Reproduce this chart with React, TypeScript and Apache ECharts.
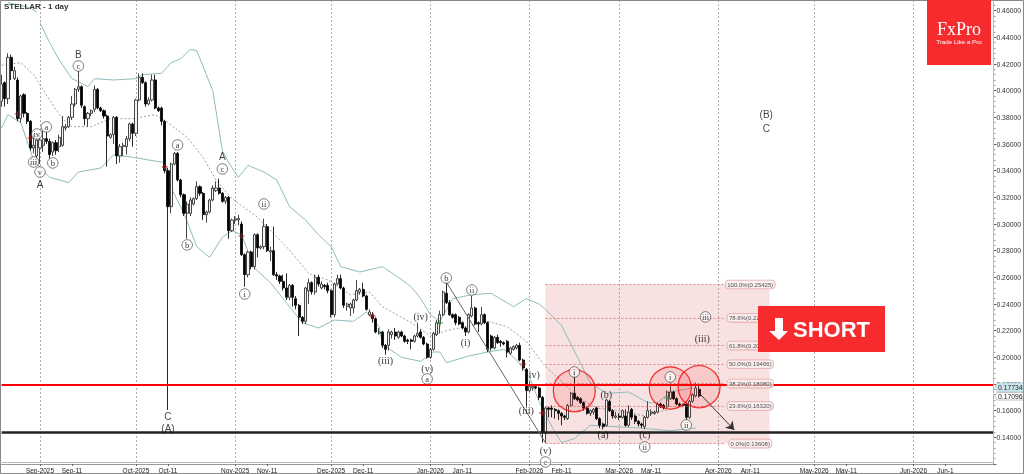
import React, { useEffect, useRef } from "react";
import * as echarts from "echarts";

const dayCount = 311;
const xTickDays = [12, 22, 42, 52, 73, 83, 103, 113, 134, 144, 165, 175, 193, 203, 224, 234, 254, 264, 285, 295];
const xTickLabels = ["Sep-2025", "Sep-11", "Oct-2025", "Oct-11", "Nov-2025", "Nov-11", "Dec-2025", "Dec-11", "Jan-2026", "Jan-11", "Feb-2026", "Feb-11", "Mar-2026", "Mar-11", "Apr-2026", "Apr-11", "May-2026", "May-11", "Jun-2026", "Jun-1"];
const monthStartDays = [12, 42, 73, 103, 134, 165, 193, 224, 254, 285];

const opens = [
  .392,.406,.394,.425,.409,.408,.379,.397,.383,.377,
  .357,.351,.357,.359,.364,.362,.354,.361,.358,.359,
  .372,.373,.380,.390,.401,.403,.388,.379,.383,.386,
  .401,.387,.385,.381,.365,.367,.380,.351,.358,.358,
  .364,.375,.368,.393,.410,.406,.390,.393,.408,.387,
  .387,.377,.340,.313,.345,.353,.333,.322,.308,.308,
  .315,.319,.328,.323,.307,.309,.318,.325,.327,.323,
  .317,.320,.295,.303,.303,.300,.277,.262,.279,.268,
  .292,.282,.283,.298,.279,.280,.262,.261,.257,.252,
  .245,.254,.244,.239,.230,.227,.250,.256,.249,.260,
  .252,.254,.254,.250,.232,.255,.259,.252,.238,.237,
  .237,.243,.249,.251,.246,.232,.232,.229,.218,.219,
  .209,.209,.217,.219,.215,.219,.216,.213,.213,.212,
  .216,.219,.215,.210,.200,.206,.217,.225,.232,.248,
  .241,.232,.232,.230,.226,.222,.219,.231,.237,.226,
  .225,.232,.226,.216,.207,.215,.212,.211,.212,.203,
  .206,.207,.209,.198,.191,.175,.177,.178,.177,.170,
  .143,.162,.162,.161,.160,.158,.156,.154,.164,.173,
  .170,.169,.166,.162,.158,.159,.162,.154,.150,.149,
  .167,.160,.155,.156,.155,.156,.149,.161,.156,.152,
  .150,.148,.155,.158,.158,.159,.165,.164,.163,.169,
  .174,.169,.165,.165,.165,.155,.167,.171,.176,
];
const closes = [
  .405,.394,.425,.415,.415,.379,.396,.383,.377,.357,
  .359,.363,.363,.364,.362,.352,.361,.355,.365,.373,
  .373,.380,.390,.401,.403,.389,.379,.383,.385,.401,
  .387,.385,.381,.366,.367,.380,.351,.358,.359,.364,
  .375,.368,.393,.410,.406,.390,.393,.408,.387,.385,
  .377,.340,.313,.345,.353,.333,.322,.308,.315,.318,
  .319,.328,.323,.307,.309,.318,.327,.327,.323,.317,
  .320,.295,.303,.304,.304,.277,.262,.279,.268,.292,
  .282,.283,.298,.280,.280,.262,.261,.257,.252,.245,
  .254,.245,.239,.230,.227,.252,.256,.249,.260,.255,
  .255,.253,.250,.232,.255,.259,.252,.239,.240,.240,
  .243,.250,.251,.246,.236,.234,.229,.219,.219,.209,
  .206,.219,.219,.216,.219,.216,.212,.212,.212,.216,
  .218,.215,.210,.200,.206,.218,.226,.232,.249,.241,
  .232,.230,.226,.225,.222,.219,.232,.237,.225,.225,
  .232,.226,.206,.207,.215,.211,.211,.210,.204,.207,
  .208,.209,.198,.192,.175,.178,.178,.177,.170,.144,
  .162,.161,.161,.160,.158,.156,.155,.164,.173,.169,
  .168,.166,.162,.158,.160,.161,.154,.149,.148,.168,
  .160,.156,.156,.155,.160,.149,.159,.155,.152,.150,
  .149,.155,.160,.159,.159,.165,.163,.162,.174,.174,
  .169,.165,.164,.164,.155,.167,.172,.177,.171,
];
const highs = [
  .412,.407,.428,.427,.418,.410,.397,.398,.384,.378,
  .368,.366,.367,.371,.370,.364,.362,.363,.367,.381,
  .375,.381,.396,.402,.415,.404,.389,.384,.386,.404,
  .402,.388,.386,.382,.368,.381,.381,.360,.361,.366,
  .376,.376,.394,.413,.413,.407,.395,.412,.412,.388,
  .388,.378,.342,.346,.354,.354,.334,.323,.317,.320,
  .320,.332,.329,.324,.310,.319,.329,.332,.334,.324,
  .321,.321,.304,.306,.307,.302,.278,.280,.280,.293,
  .293,.284,.304,.300,.283,.298,.264,.262,.262,.263,
  .255,.255,.246,.240,.231,.253,.259,.257,.262,.262,
  .257,.255,.256,.251,.256,.262,.262,.253,.241,.241,
  .244,.258,.252,.256,.247,.236,.234,.230,.222,.220,
  .210,.221,.220,.222,.220,.220,.217,.214,.214,.217,
  .226,.221,.216,.211,.207,.219,.228,.235,.250,.2565,
  .243,.233,.233,.231,.227,.223,.233,.246,.238,.227,
  .238,.233,.227,.217,.216,.217,.213,.212,.213,.208,
  .209,.210,.211,.199,.192,.182,.179,.179,.178,.171,
  .163,.163,.164,.162,.161,.159,.157,.165,.174,.189,
  .171,.170,.167,.163,.161,.162,.163,.155,.151,.169,
  .168,.161,.159,.158,.161,.161,.164,.162,.157,.153,
  .151,.156,.167,.161,.160,.166,.166,.165,.175,.181,
  .175,.170,.166,.165,.166,.168,.173,.181,.180,
];
const lows = [
  .388,.388,.390,.408,.408,.377,.376,.380,.375,.355,
  .353,.345,.345,.354,.360,.349,.351,.352,.354,.358,
  .370,.372,.378,.388,.399,.387,.374,.373,.381,.384,
  .386,.384,.379,.343,.364,.360,.345,.346,.351,.352,
  .362,.358,.366,.392,.405,.388,.389,.392,.386,.384,
  .374,.338,.1605,.308,.344,.332,.320,.306,.289,.306,
  .314,.318,.321,.303,.301,.308,.317,.324,.322,.316,
  .315,.289,.294,.300,.299,.276,.253,.260,.266,.266,
  .275,.281,.281,.279,.272,.261,.258,.255,.250,.243,
  .243,.238,.236,.216,.225,.225,.240,.247,.247,.253,
  .251,.251,.248,.230,.230,.254,.251,.237,.235,.231,
  .233,.242,.247,.245,.235,.231,.226,.218,.217,.207,
  .202,.205,.214,.213,.214,.215,.211,.210,.206,.211,
  .215,.214,.209,.199,.199,.205,.216,.218,.231,.240,
  .231,.229,.224,.224,.221,.216,.218,.230,.224,.219,
  .224,.225,.204,.205,.206,.210,.208,.209,.200,.202,
  .205,.206,.197,.190,.163,.174,.175,.176,.168,.136,
  .136,.155,.155,.154,.153,.149,.153,.153,.163,.168,
  .167,.165,.160,.157,.156,.157,.153,.147,.146,.148,
  .159,.154,.154,.153,.154,.148,.148,.153,.150,.148,
  .147,.146,.154,.156,.157,.158,.162,.161,.162,.168,
  .168,.164,.163,.163,.153,.154,.166,.170,.170,
];

const upperBandEarly = [[2,.466],[6,.464],[9,.462],[11,.459]];
const upperBand = [[12,.451],[15,.436],[18,.423],[22,.409],[27,.403],[29,.409],[35,.408],[42,.409],[44,.412],[50,.413],[53,.421],[56,.424],[59,.431],[61,.430],[66,.400],[69,.355],[71,.346],[74,.335],[77,.344],[82,.339],[86,.333],[90,.313],[95,.303],[99,.292],[103,.283],[106,.268],[112,.264],[119,.268],[124,.260],[128,.253],[131,.244],[134,.232],[137,.227],[141,.244],[147,.247],[153,.248],[160,.238],[164,.244],[168,.240],[170,.236],[175,.224],[180,.200],[184,.181],[189,.173],[196,.174],[202,.166],[205,.166],[209,.174],[216,.177]];
const lowerBand = [[0,.372],[2,.382],[6,.376],[10,.348],[15,.335],[21,.331],[24,.339],[31,.342],[35,.352],[41,.350],[51,.346],[53,.327],[57,.308],[61,.283],[65,.275],[69,.290],[72,.295],[75,.292],[79,.267],[84,.256],[89,.241],[94,.226],[99,.222],[104,.228],[110,.227],[114,.234],[118,.223],[119,.210],[125,.200],[131,.197],[135,.204],[137,.204],[139,.196],[146,.201],[152,.204],[157,.206],[161,.198],[165,.185],[168,.167],[172,.148],[175,.136],[179,.139],[182,.145],[184,.149],[192,.148],[199,.147],[209,.145],[217,.147]];
const middleBand = [[0,.419],[6,.421],[10,.412],[15,.393],[19,.379],[22,.373],[28,.373],[34,.379],[41,.379],[48,.382],[52,.376],[58,.365],[63,.350],[67,.333],[72,.319],[80,.305],[89,.283],[96,.263],[102,.258],[109,.247],[115,.249],[119,.238],[128,.226],[134,.216],[139,.220],[145,.223],[152,.227],[158,.223],[164,.212],[170,.193],[176,.180],[180,.170],[186,.162],[193,.160],[201,.156],[207,.160],[215,.164]];

const fibLevels = [.2546, .2296, .2088, .1948, .1803, .1635, .1353];
const fibLabels = ["100.0%(0.25425)", "78.6%(0.22880)", "61.8%(0.20898)", "50.0%(0.19466)", "38.2%(0.18080)", "23.6%(0.16320)", "0.0%(0.13608)"];

const resistanceLevel = .1798;
const supportLevel = .1438;
const focusCircles = [[179, .1750], [209, .1770], [218, .1780]];
const redCrosses = [[5,.3825],[9,.3645],[51,.3428],[75,.291],[116,.231],[163,.195],[169,.1583]];
const greenCrosses = [[137,.2258],[208,.1695]];

const circledWaves: [number, number, string][] = [
  [24,.4185,"c"],[14,.3728,"a"],[11,.3675,"iv"],[10,.3465,"iii"],[16,.3458,"b"],[12,.339,"v"],
  [55,.3593,"a"],[69,.3413,"c"],[58,.2843,"b"],[76,.2475,"i"],[82,.315,"ii"],[139,.2595,"b"],
  [147,.2505,"ii"],[133,.1838,"a"],[170,.1215,"c"],[179,.189,"i"],[201,.1328,"ii"],[209,.1853,"i"],
  [214,.1493,"ii"],[220,.2303,"iii"],
];
const parenWaves: [number, number, string][] = [
  [131,.231,"(iv)"],[120,.1973,"(iii)"],[133,.192,"(v)"],[145,.2108,"(i)"],[166,.1868,"(iv)"],
  [164,.1598,"(iii)"],[170,.1305,"(v)"],[189,.1725,"(b)"],[188,.1418,"(a)"],[201,.1418,"(c)"],[219,.2145,"(iii)"],
];
const majorWaves: [number, number, string][] = [
  [24,.4275,"B"],[12,.33,"A"],[69,.351,"A"],[52,.156,"C"],[52,.1463,"(A)"],[239,.3818,"(B)"],[239,.372,"C"],
];
const trendLine = [[139,.2565],[170,.1358]];
const forecastArrow = [[218,.1733],[229,.1455]];

const crossPath = "path://M4 0H6V4H10V6H6V10H4V6H0V4H4Z";

export default function App() {
  const ref = useRef<HTMLDivElement>(null);
  useEffect(() => {
    document.body.style.margin = "0";
    const chart = echarts.init(ref.current!, undefined, { renderer: "svg" });
    const tickSet = new Set(xTickDays);
    const monthSet = new Set(monthStartDays);
    const categories = Array.from({ length: dayCount }, (_, i) => String(i));
    const sans = "Liberation Sans";
    const serif = "Liberation Serif";
    const helper = (z: number, extra: any) => ({
      type: "line", data: [[0, 0.3]], symbol: "none", silent: true, z, lineStyle: { opacity: 0 }, ...extra,
    });
    const band = (data: number[][], color: string, type: any, width: number) => ({
      type: "line", data, symbol: "none", silent: true, z: 2, lineStyle: { color, type, width },
    });
    chart.setOption({
      animation: false,
      title: { text: "STELLAR - 1 day", left: 4, top: 2, padding: 0, textStyle: { fontFamily: sans, fontSize: 8, fontWeight: "bold", color: "#333" } },
      grid: { left: 1.6, top: 0, width: 993.4, height: 464, containLabel: false },
      xAxis: {
        type: "category", data: categories, boundaryGap: false,
        axisLine: { lineStyle: { color: "#999" } },
        axisTick: { length: 2, lineStyle: { color: "#666" }, interval: (i: number) => tickSet.has(i) },
        axisLabel: {
          interval: (i: number) => tickSet.has(i), margin: 3, fontFamily: sans, fontSize: 6.5, color: "#222",
          formatter: (_: string, i: number) => xTickLabels[xTickDays.indexOf(i)] ?? "",
        },
        splitLine: { show: true, interval: (i: number) => monthSet.has(i), lineStyle: { color: "#999", type: [2, 2], width: 0.8 } },
      },
      yAxis: {
        type: "value", position: "right", min: 0.12, max: 0.468, interval: 0.02, scale: true,
        axisLine: { show: true, lineStyle: { color: "#888" } },
        axisTick: { show: true, length: 3, lineStyle: { color: "#666" } },
        minorTick: { show: true, splitNumber: 5, length: 2, lineStyle: { color: "#999" } },
        splitLine: { show: false },
        axisLabel: {
          margin: 3, fontFamily: sans, fontSize: 6.8, color: "#333",
          formatter: (v: number) => (v > 0.13 && Math.abs(v / 0.02 - Math.round(v / 0.02)) < 1e-6 ? v.toFixed(5) : ""),
        },
      },
      series: [
        helper(1, {
          markArea: { silent: true, itemStyle: { color: "rgba(222,130,130,0.24)" }, data: [[{ coord: [170, fibLevels[0]] }, { coord: [240, fibLevels[6]] }]] },
          markLine: {
            silent: true, symbol: "none", label: { show: false },
            lineStyle: { color: "#d96a6a", type: [2, 2], width: 0.8 },
            data: fibLevels.map((p) => [{ coord: [170, p] }, { coord: [226, p] }]),
          },
        }),
        band(upperBandEarly, "#8fbdbd", "solid", 1),
        band(upperBand, "#8fbdbd", "solid", 1),
        band(lowerBand, "#8fbdbd", "solid", 1),
        band(middleBand, "#777", [2, 2], 0.7),
        {
          type: "candlestick", z: 3, barWidth: 2.6, silent: true,
          itemStyle: { color: "#f4f4f4", color0: "#000", borderColor: "#333", borderColor0: "#111", borderWidth: 0.9 },
          data: opens.map((o, i) => [o, closes[i], lows[i], highs[i]]),
        },
        helper(4, {
          markLine: {
            silent: true, symbol: "none", label: { show: false },
            data: [
              [{ coord: [0, resistanceLevel], lineStyle: { color: "#f00", width: 2, type: "solid" } }, { coord: [310, resistanceLevel] }],
              [{ coord: [0, supportLevel], lineStyle: { color: "#222", width: 2.5, type: "solid" } }, { coord: [310, supportLevel] }],
            ],
          },
        }),
        helper(4, {
          markLine: {
            silent: true, symbol: ["none", "none"], label: { show: false },
            lineStyle: { color: "#666", width: 1, type: "solid" },
            data: [[{ coord: trendLine[0] }, { coord: trendLine[1] }]],
          },
        }),
        helper(4, {
          markLine: {
            silent: true, symbol: ["none", "arrow"], symbolSize: 8, label: { show: false },
            lineStyle: { color: "#333", width: 1, type: "solid" },
            data: [[{ coord: forecastArrow[0] }, { coord: forecastArrow[1] }]],
          },
        }),
        {
          type: "scatter", z: 5, silent: true, symbol: "circle", symbolSize: 42, data: focusCircles,
          itemStyle: { color: "rgba(255,0,0,0.13)", borderColor: "#f01010", borderWidth: 1.3 },
        },
        { type: "scatter", z: 6, silent: true, symbol: crossPath, symbolSize: 6, data: redCrosses, itemStyle: { color: "#a01818" } },
        { type: "scatter", z: 6, silent: true, symbol: crossPath, symbolSize: 6, data: greenCrosses, itemStyle: { color: "#3d8f3d" } },
        {
          type: "scatter", z: 7, silent: true, symbol: "circle", symbolSize: 10.5,
          itemStyle: { color: "#fff", borderColor: "#333", borderWidth: 0.8 },
          label: { show: true, position: "inside", fontFamily: serif, fontSize: 8.5, color: "#000", textBorderWidth: 0, formatter: (p: any) => p.value[2] },
          data: circledWaves,
        },
        {
          type: "scatter", z: 7, silent: true, symbolSize: 0, itemStyle: { color: "transparent" },
          label: { show: true, position: "inside", fontFamily: serif, fontSize: 10, color: "#000", textBorderWidth: 0, formatter: (p: any) => p.value[2] },
          data: parenWaves,
        },
        {
          type: "scatter", z: 7, silent: true, symbolSize: 0, itemStyle: { color: "transparent" },
          label: { show: true, position: "inside", fontFamily: sans, fontSize: 10, color: "#111", textBorderWidth: 0, formatter: (p: any) => p.value[2] },
          data: majorWaves,
        },
        {
          type: "scatter", z: 7, silent: true, symbolSize: 0, itemStyle: { color: "transparent" },
          label: {
            show: true, position: "inside", fontFamily: sans, fontSize: 6, color: "#222", textBorderWidth: 0,
            backgroundColor: "#fbf1f1", borderColor: "#e39a9a", borderWidth: 0.8, borderRadius: 3, padding: [1, 1.5],
            formatter: (p: any) => fibLabels[p.dataIndex],
          },
          data: fibLevels.map((p) => [234, p]),
        },
      ],
      graphic: [
        { type: "rect", z: 100, shape: { x: 0.5, y: 0.5, width: 1023, height: 473 }, style: { fill: "none", stroke: "#888", lineWidth: 1 } },
        { type: "line", z: 100, shape: { x1: 993.5, y1: 0, x2: 993.5, y2: 462.5 }, style: { stroke: "#bbb", lineWidth: 1 } },
        { type: "line", z: 100, shape: { x1: 0, y1: 462.5, x2: 994, y2: 462.5 }, style: { stroke: "#bbb", lineWidth: 1 } },
        { type: "rect", z: 100, shape: { x: 927, y: 0, width: 64, height: 65 }, style: { fill: "#f52b2e" } },
        { type: "text", z: 101, style: { x: 959, y: 28.5, text: "FxPro", fill: "#fff", font: "18px 'Liberation Serif'", align: "center", verticalAlign: "middle" } },
        { type: "text", z: 101, style: { x: 959, y: 41, text: "Trade Like a Pro", fill: "#fff", font: "6.2px 'Liberation Sans'", align: "center", verticalAlign: "middle" } },
        { type: "rect", z: 100, shape: { x: 758, y: 306, width: 127, height: 46 }, style: { fill: "#f52b2e" } },
        { type: "polygon", z: 101, shape: { points: [[775, 318], [783, 318], [783, 331], [788, 331], [779, 340], [769, 331], [775, 331]] }, style: { fill: "#fff" } },
        { type: "text", z: 101, style: { x: 793, y: 329.5, text: "SHORT", fill: "#fff", font: "bold 22px 'Liberation Sans'", align: "left", verticalAlign: "middle" } },
        { type: "polygon", z: 100, shape: { points: [[995, 387], [997, 383], [1023, 383], [1023, 391.5], [997, 391.5]] }, style: { fill: "#cfe6ef", stroke: "#9cc", lineWidth: 0.6 } },
        { type: "text", z: 101, style: { x: 998, y: 387.5, text: "0.17734", fill: "#222", font: "6.8px 'Liberation Sans'", align: "left", verticalAlign: "middle" } },
        { type: "polygon", z: 100, shape: { points: [[995, 396], [997, 392.5], [1023, 392.5], [1023, 400], [997, 400]] }, style: { fill: "#fff", stroke: "#999", lineWidth: 0.6 } },
        { type: "text", z: 101, style: { x: 998, y: 396.5, text: "0.17096", fill: "#222", font: "6.8px 'Liberation Sans'", align: "left", verticalAlign: "middle" } },
      ],
    });
    return () => chart.dispose();
  }, []);
  return <div ref={ref} style={{ position: "absolute", left: 0, top: 0, width: 1024, height: 474, background: "#fff", willChange: "transform" }} />;
}
